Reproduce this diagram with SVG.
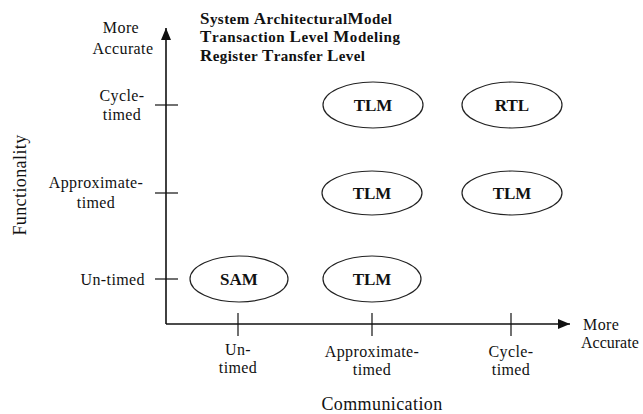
<svg xmlns="http://www.w3.org/2000/svg" width="643" height="414" viewBox="0 0 643 414">
<defs>
<style>
.lbl{font-family:"Liberation Serif","Times New Roman",serif;font-size:16px;fill:#111;letter-spacing:0.4px}
.mid{text-anchor:middle}
.leg{font-family:"Liberation Serif","Times New Roman",serif;font-size:15px;font-weight:bold;fill:#111}
.cap{font-size:17px}
.node{fill:#fff;stroke:#222;stroke-width:1.2}
.nt{font-family:"Liberation Serif","Times New Roman",serif;font-size:17px;font-weight:bold;fill:#111;text-anchor:middle}
.ax{stroke:#111;stroke-width:1.6;fill:none}
.tk{stroke:#111;stroke-width:1.2}
</style>
<marker id="ah" viewBox="0 0 12 10" refX="12" refY="5" markerWidth="12" markerHeight="10" markerUnits="userSpaceOnUse" orient="auto">
<path d="M0,0 L12,5 L0,10 Z" fill="#111"/>
</marker>
</defs>
<rect width="643" height="414" fill="#fff"/>

<g id="connectors">
<line class="ax" x1="166" y1="324" x2="166" y2="28" marker-end="url(#ah)"/>
<line class="ax" x1="166" y1="324" x2="570" y2="324" marker-end="url(#ah)"/>
<line class="tk" x1="155" y1="105" x2="178" y2="105"/>
<line class="tk" x1="155" y1="193" x2="178" y2="193"/>
<line class="tk" x1="155" y1="279" x2="178" y2="279"/>
<line class="tk" x1="238" y1="313" x2="238" y2="336"/>
<line class="tk" x1="372" y1="313" x2="372" y2="336"/>
<line class="tk" x1="511" y1="313" x2="511" y2="336"/>
</g>

<g id="legend">
<text class="leg" x="200" y="24" textLength="192" lengthAdjust="spacing"><tspan class="cap">S</tspan>ystem <tspan class="cap">A</tspan>rchitectural<tspan class="cap">M</tspan>odel</text>
<text class="leg" x="200" y="42" textLength="200" lengthAdjust="spacing"><tspan class="cap">T</tspan>ransaction <tspan class="cap">L</tspan>evel <tspan class="cap">M</tspan>odeling</text>
<text class="leg" x="200" y="61" textLength="165" lengthAdjust="spacing"><tspan class="cap">R</tspan>egister <tspan class="cap">T</tspan>ransfer <tspan class="cap">L</tspan>evel</text>
</g>

<g id="y-labels">
<text class="lbl mid" x="121" y="33">More</text>
<text class="lbl mid" x="123" y="54">Accurate</text>
<text class="lbl mid" x="122" y="101">Cycle-</text>
<text class="lbl mid" x="122" y="120">timed</text>
<text class="lbl mid" x="96" y="188">Approximate-</text>
<text class="lbl mid" x="96" y="208">timed</text>
<text class="lbl" x="145" y="285" text-anchor="end">Un-timed</text>
<text class="lbl mid" x="26" y="185" transform="rotate(-90 26 185)" style="font-size:18px">Functionality</text>
</g>

<g id="x-labels">
<text class="lbl mid" x="238" y="355">Un-</text>
<text class="lbl mid" x="238" y="373">timed</text>
<text class="lbl mid" x="372" y="357">Approximate-</text>
<text class="lbl mid" x="372" y="375">timed</text>
<text class="lbl mid" x="511" y="357">Cycle-</text>
<text class="lbl mid" x="511" y="375">timed</text>
<text class="lbl" x="583" y="330">More</text>
<text class="lbl" x="581" y="348" style="letter-spacing:0">Accurate</text>
<text class="lbl mid" x="382" y="410" style="font-size:18px">Communication</text>
</g>

<g id="node-tlm-ct"><ellipse class="node" cx="373" cy="105" rx="50" ry="23"/><text class="nt" x="373" y="111">TLM</text></g>
<g id="node-rtl-ct"><ellipse class="node" cx="512" cy="105" rx="50" ry="23"/><text class="nt" x="512" y="111">RTL</text></g>
<g id="node-tlm-aa"><ellipse class="node" cx="372" cy="193" rx="50" ry="22"/><text class="nt" x="372" y="199">TLM</text></g>
<g id="node-tlm-ca"><ellipse class="node" cx="512" cy="193" rx="50" ry="22"/><text class="nt" x="512" y="199">TLM</text></g>
<g id="node-sam"><ellipse class="node" cx="239" cy="279" rx="49" ry="23"/><text class="nt" x="239" y="285">SAM</text></g>
<g id="node-tlm-ua"><ellipse class="node" cx="372" cy="279" rx="49" ry="23"/><text class="nt" x="372" y="285">TLM</text></g>
</svg>
